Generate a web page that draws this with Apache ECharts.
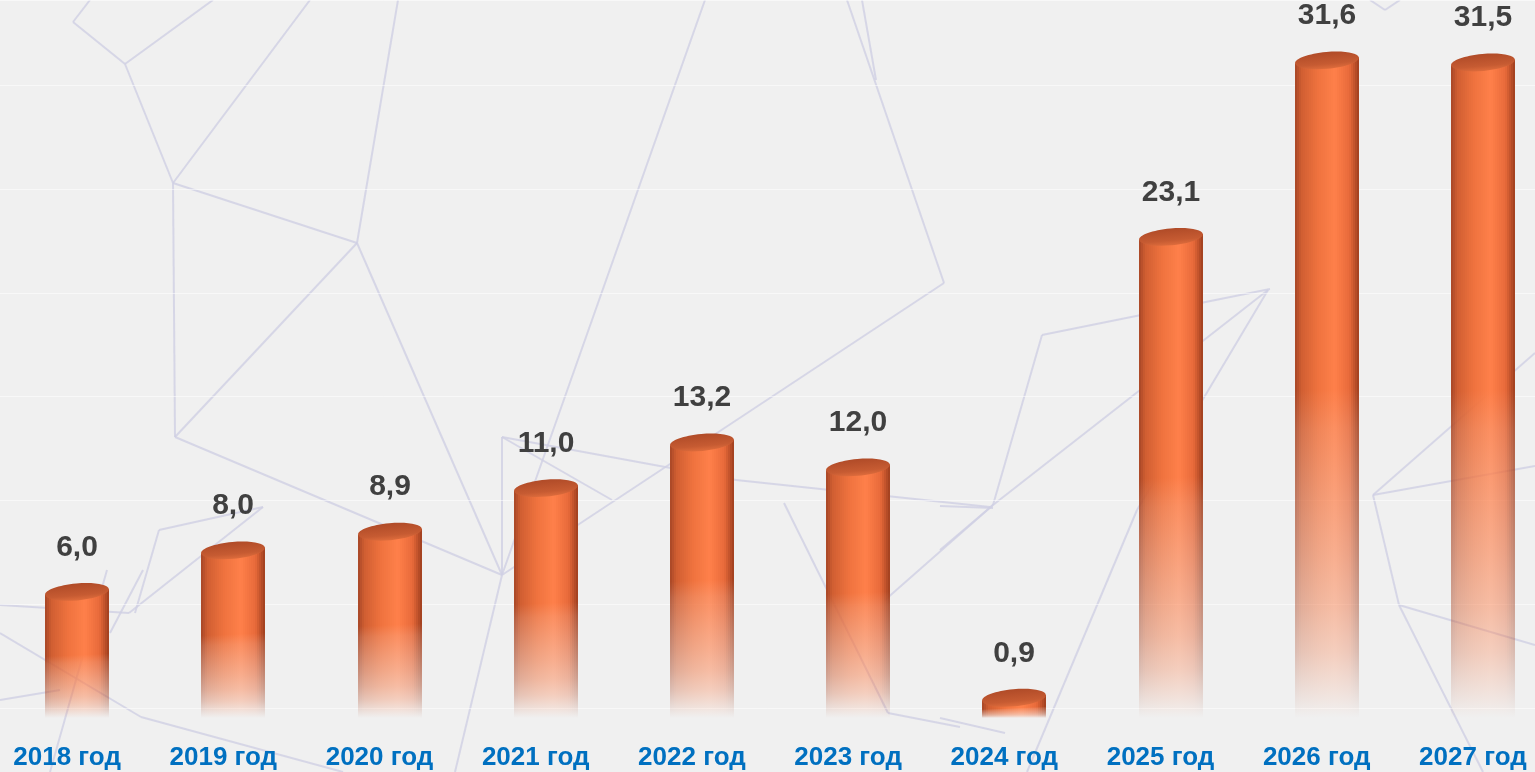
<!DOCTYPE html>
<html>
<head>
<meta charset="utf-8">
<script src="https://cdn.jsdelivr.net/npm/echarts@6/dist/echarts.min.js"></script>
<style>
html, body { margin: 0; padding: 0; background: #f0f0f0; }
#main { width: 1535px; height: 772px; }
</style>
</head>
<body>
<div id="main"></div>
<script>
var years = ['2018 год', '2019 год', '2020 год', '2021 год', '2022 год', '2023 год', '2024 год', '2025 год', '2026 год', '2027 год'];
var values = [6.0, 8.0, 8.9, 11.0, 13.2, 12.0, 0.9, 23.1, 31.6, 31.5];

// background decoration (thin polygon net)
var bgLines = [
    [90,0,73,22],[73,22,125,64],[125,64,213,0],[125,64,173,183],[173,183,310,0],
    [398,0,357,243],[173,183,357,243],[173,183,175,437],[357,243,175,437],[357,243,502,575],
    [175,437,502,575],[705,0,502,575],[847,0,944,283],[862,0,876,80],[944,283,502,575],
    [502,437,502,575],[502,437,736,480],[736,480,990,507],[502,437,612,500],
    [1042,335,1270,289],[1042,335,993,505],[1268,290,993,505],[1268,290,1137,510],[1137,510,1027,772],
    [940,506,993,508],[993,505,940,550],[993,505,885,600],[784,503,888,713],[888,713,960,727],
    [1373,495,1535,353],[1373,495,1535,466],[1373,495,1399,605],[1399,605,1535,645],[1399,605,1483,772],
    [1370,0,1385,10],[1385,10,1400,0],
    [0,605,129,613],[129,613,263,507],[159,530,263,507],[159,530,135,613],
    [0,633,141,717],[141,717,343,772],[107,570,50,772],[143,570,110,633],[502,575,455,772],
    [940,718,1005,733],[0,700,60,690]
];

// colour across the cylinder (left edge -> right edge)
var shade = [[0,[166,70,38]],[0.1,[208,94,50]],[0.35,[238,114,62]],[0.62,[255,128,74]],[0.85,[232,106,58]],[1,[158,62,30]]];
// opacity from top of body to bottom
var fade = [[0,1],[0.5,1],[0.56,0.86],[0.65,0.73],[0.75,0.59],[0.83,0.46],[0.9,0.3],[0.96,0.12],[1,0]];

function shadeAt(t) {
    for (var i = 1; i < shade.length; i++) {
        if (t <= shade[i][0]) {
            var a = shade[i-1], b = shade[i];
            var k = (t - a[0]) / (b[0] - a[0]);
            return [0,1,2].map(function (j) { return Math.round(a[1][j] + (b[1][j] - a[1][j]) * k); }).join(',');
        }
    }
    return shade[shade.length-1][1].join(',');
}

function fmt(v) {
    return v.toFixed(1).replace('.', ',');
}

function renderCylinder(params, api) {
    var i = api.value(0);
    var v = api.value(1);
    var top = api.coord([i, v]);
    var base = api.coord([i, 0]);
    var cx = Math.round(top[0]);
    var w = 64, rx = 32, ry = 8.5, rot = 0.09;
    var cy = top[1] + ry;
    var bottom = base[1] + 10;
    var children = [];
    for (var k = 0; k < w; k += 2) {
        var x = cx - rx + k;
        var y0 = cy - (x + 1 - cx) * Math.tan(rot);
        var c = shadeAt((k + 1) / w);
        var stops = fade.map(function (f) {
            return {offset: f[0], color: 'rgba(' + c + ',' + f[1] + ')'};
        });
        children.push({
            type: 'rect',
            shape: {x: x, y: y0, width: 2, height: bottom - y0},
            style: {fill: new echarts.graphic.LinearGradient(0, 0, 0, 1, stops)}
        });
    }
    children.push({
        type: 'ellipse',
        shape: {cx: cx, cy: cy, rx: rx, ry: ry},
        rotation: rot,
        originX: cx,
        originY: cy,
        style: {
            fill: new echarts.graphic.LinearGradient(0, 0, 0, 1, [
                {offset: 0, color: '#b04b28'},
                {offset: 0.7, color: '#c65b32'},
                {offset: 1, color: '#de6c3c'}
            ])
        }
    });
    children.push({
        type: 'text',
        x: cx,
        y: top[1] - 36,
        style: {
            text: fmt(v),
            fill: '#404040',
            fontSize: 30,
            fontWeight: 'bold',
            fontFamily: 'Liberation Sans',
            align: 'center',
            verticalAlign: 'middle'
        }
    });
    return {type: 'group', children: children};
}

var chart = echarts.init(document.getElementById('main'));

var graphics = bgLines.map(function (s) {
    return {
        type: 'line',
        silent: true,
        z: -1,
        shape: {x1: s[0], y1: s[1], x2: s[2], y2: s[3]},
        style: {stroke: 'rgba(208,208,228,0.8)', lineWidth: 2}
    };
});

chart.setOption({
    backgroundColor: '#f0f0f0',
    animation: false,
    graphic: graphics,
    grid: {
        left: -1,
        right: -26,
        top: 0,
        bottom: 64,
        outerBoundsMode: 'none'
    },
    xAxis: {
        type: 'category',
        data: years,
        axisLine: {show: false},
        axisTick: {show: false},
        axisLabel: {
            interval: 0,
            color: '#0070c0',
            fontWeight: 'bold',
            fontSize: 26,
            fontFamily: 'Liberation Sans',
            margin: 37,
            padding: [0, 20, 0, 0]
        }
    },
    yAxis: {
        type: 'value',
        min: 0,
        max: 34.1,
        interval: 5,
        axisLine: {show: false},
        axisTick: {show: false},
        axisLabel: {show: false},
        splitLine: {lineStyle: {color: 'rgba(255,255,255,0.55)', width: 1}}
    },
    series: [{
        type: 'custom',
        renderItem: renderCylinder,
        clip: false,
        z: 3,
        data: values.map(function (v, i) { return [i, v]; })
    }]
});
</script>
</body>
</html>
